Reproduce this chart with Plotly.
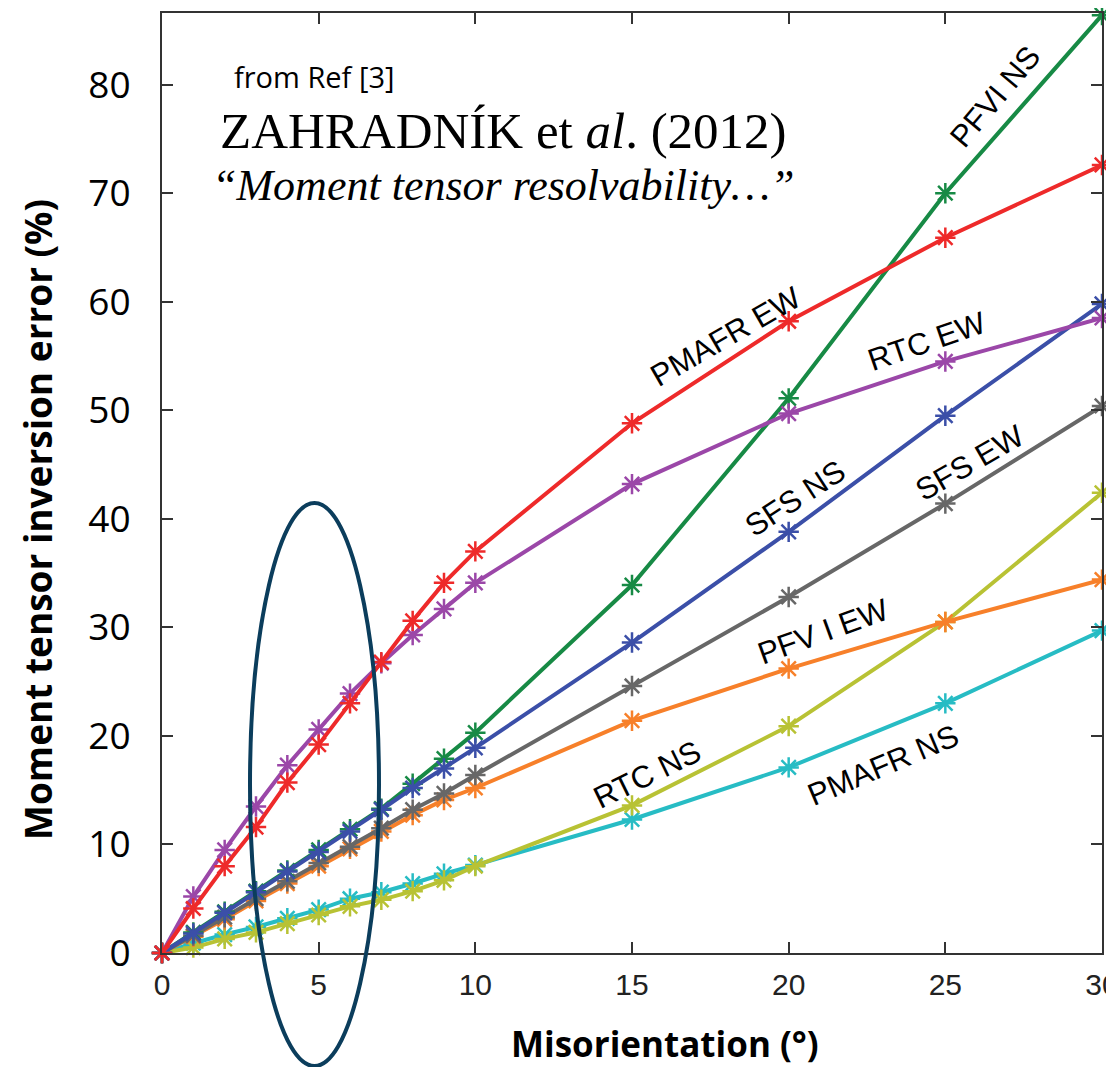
import plotly.graph_objects as go

# misorientation angles (deg)
misorientation = [0, 1, 2, 3, 4, 5, 6, 7, 8, 9, 10, 15, 20, 25, 30]

# moment tensor inversion error (%) per station/component
pmafr_ew = [0, 4.1, 8.0, 11.6, 15.7, 19.2, 23.0, 26.8, 30.6, 34.1, 37.0, 48.8, 58.2, 65.9, 72.6]
rtc_ew = [0, 5.2, 9.5, 13.5, 17.3, 20.6, 23.9, 26.7, 29.3, 31.7, 34.1, 43.2, 49.7, 54.5, 58.5]
pfvi_ns = [0, 1.9, 3.8, 5.7, 7.6, 9.5, 11.4, 13.3, 15.6, 17.9, 20.3, 33.9, 51.1, 70.0, 86.4]
sfs_ns = [0, 1.8, 3.7, 5.6, 7.5, 9.3, 11.2, 13.2, 15.2, 17.0, 18.9, 28.6, 38.8, 49.5, 59.8]
sfs_ew = [0, 1.6, 3.3, 5.0, 6.6, 8.3, 9.8, 11.5, 13.2, 14.7, 16.4, 24.6, 32.8, 41.4, 50.4]
pfvi_ew = [0, 1.5, 3.1, 4.8, 6.4, 8.0, 9.6, 11.2, 12.7, 14.1, 15.2, 21.4, 26.2, 30.5, 34.4]
pmafr_ns = [0, 0.9, 1.7, 2.4, 3.2, 4.0, 5.0, 5.6, 6.4, 7.3, 8.1, 12.3, 17.1, 23.0, 29.7]
rtc_ns = [0, 0.5, 1.3, 1.9, 2.7, 3.5, 4.3, 4.9, 5.7, 6.7, 8.0, 13.6, 20.9, 30.5, 42.4]

x_ticks = [0, 5, 10, 15, 20, 25, 30]
y_ticks = [0, 10, 20, 30, 40, 50, 60, 70, 80]

series = [
    ('PMAFR NS', pmafr_ns, '#27bcc4'),
    ('RTC NS', rtc_ns, '#b8c234'),
    ('PFV I EW', pfvi_ew, '#f7802a'),
    ('SFS EW', sfs_ew, '#676767'),
    ('PFVI NS', pfvi_ns, '#178a45'),
    ('SFS NS', sfs_ns, '#3b4fa8'),
    ('RTC EW', rtc_ew, '#9b47a8'),
    ('PMAFR EW', pmafr_ew, '#ee2a2a'),
]

# label text, x, y (data coords of label centre), angle
labels = [
    ('PFVI NS', 26.6, 78.9, -50),
    ('PMAFR EW', 18.0, 56.8, -30),
    ('RTC EW', 24.4, 56.3, -19),
    ('SFS NS', 20.2, 41.9, -33),
    ('SFS EW', 25.8, 45.2, -30),
    ('PFV I EW', 21.1, 29.6, -20),
    ('RTC NS', 15.5, 16.4, -26),
    ('PMAFR NS', 23.0, 17.3, -23),
]

fig = go.Figure()
for name, vals, color in series:
    fig.add_trace(go.Scatter(
        x=misorientation, y=vals, name=name, mode='lines+markers',
        line=dict(color=color, width=4),
        marker=dict(symbol='asterisk-open', size=17,
                    line=dict(color=color, width=2.5)),
        cliponaxis=False,
    ))

for text, lx, ly, ang in labels:
    fig.add_annotation(x=lx, y=ly, xref='x', yref='y', text=text,
                       textangle=ang, showarrow=False,
                       xanchor='center', yanchor='middle',
                       font=dict(family='Liberation Sans', size=31, color='black'))

# page body adds an 8px offset; margins are in figure pixels
OFF = 8
W, H = 1114, 1067
L, T, PW, PH = 154, 5, 940, 940
R, B = W - L - PW, H - T - PH


def px(x):
    return (x - OFF - L) / PW


def py(y):
    return (T + PH - (y - OFF)) / PH


fig.add_annotation(x=px(232), y=py(77), xref='paper', yref='paper',
                   text='from Ref [3]', showarrow=False,
                   xanchor='left', yanchor='middle',
                   font=dict(family='Open Sans', size=29, color='black'))
fig.add_annotation(x=px(218), y=py(131), xref='paper', yref='paper',
                   text='ZAHRADNÍK et <i>al</i>. (2012)', showarrow=False,
                   xanchor='left', yanchor='middle',
                   font=dict(family='Liberation Serif', size=51, color='black'))
fig.add_annotation(x=px(210), y=py(186), xref='paper', yref='paper',
                   text='<i>\u201cMoment tensor resolvability\u2026\u201d</i>',
                   showarrow=False, xanchor='left', yanchor='middle',
                   font=dict(family='Liberation Serif', size=44, color='black'))

# axis titles placed as in the source figure
fig.add_annotation(x=px(665), y=py(1043), xref='paper', yref='paper',
                   text='<b>Misorientation (°)</b>', showarrow=False,
                   xanchor='center', yanchor='middle',
                   font=dict(family='Open Sans', size=35, color='black'))
fig.add_annotation(x=px(37), y=py(520), xref='paper', yref='paper',
                   text='<b>Moment tensor inversion error (%)</b>',
                   showarrow=False, textangle=-90,
                   xanchor='center', yanchor='middle',
                   font=dict(family='Open Sans', size=37, color='black'))

# highlight ellipse around 5 degrees
fig.add_shape(type='circle', xref='paper', yref='paper',
              x0=px(250), x1=px(379), y0=py(1066), y1=py(503),
              line=dict(color='#0b3d5c', width=4))

axis_common = dict(
    showgrid=False, zeroline=False, showline=True, linecolor='#333333',
    linewidth=2, mirror='ticks', ticks='inside', ticklen=11, tickwidth=2,
    tickcolor='#333333', automargin=False,
)

fig.update_xaxes(
    range=[0, 30], tickvals=x_ticks,
    tickfont=dict(family='Liberation Sans', size=30, color='#222222'),
    ticklabelstandoff=4, ticklabeloverflow='allow',
    **axis_common,
)
fig.update_yaxes(
    range=[0, 86.6], tickvals=y_ticks,
    tickfont=dict(family='Open Sans', size=37, color='black'),
    ticklabelstandoff=22, ticklabeloverflow='allow',
    **axis_common,
)

fig.update_layout(
    width=W, height=H,
    margin=dict(l=L, r=R, t=T, b=B),
    paper_bgcolor='white', plot_bgcolor='white',
    showlegend=False,
)
fig.write_html('out.html')
